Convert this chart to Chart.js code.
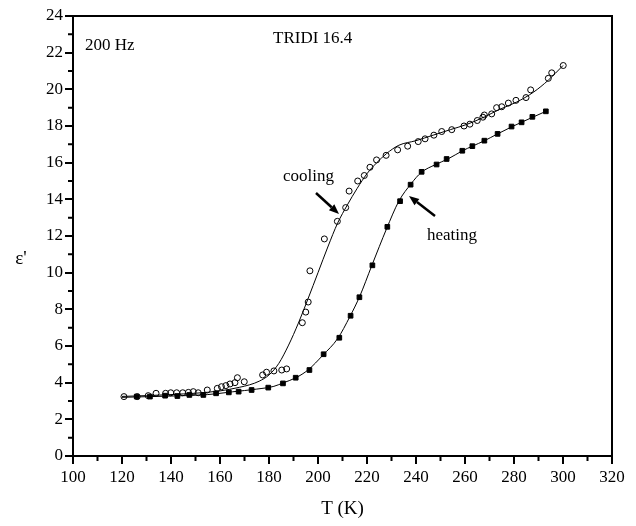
<!DOCTYPE html>
<html>
<head>
<meta charset="utf-8">
<script src="https://cdn.jsdelivr.net/npm/chart.js@4/dist/chart.umd.min.js"></script>
<style>
html,body{margin:0;padding:0;background:#fff;}
#wrap{width:636px;height:526px;position:relative;}
</style>
</head>
<body>
<div id="wrap"><canvas id="c"></canvas></div>
<script>
// ---- data ----
const coolingT = [120.8,126.2,130.7,133.9,137.8,139.9,142.3,144.8,147.1,149.1,151.1,154.8,158.9,160.6,162.4,164.1,166.1,167.1,169.9,177.4,179,182,185.2,187.2,193.6,195,196,196.7,202.6,207.9,211.3,212.7,216.2,218.9,221.2,223.9,227.8,232.5,236.6,240.9,243.7,247.3,250.5,254.6,259.6,262,265,267.3,267.9,270.9,272.9,275,277.7,280.8,284.9,286.8,294,295.4,300.1];
const coolingE = [3.24,3.24,3.29,3.42,3.42,3.45,3.45,3.45,3.47,3.51,3.45,3.6,3.69,3.78,3.84,3.93,4.0,4.27,4.05,4.42,4.57,4.64,4.69,4.75,7.27,7.85,8.4,10.1,11.84,12.8,13.55,14.45,15.0,15.3,15.75,16.15,16.4,16.7,16.9,17.15,17.3,17.5,17.7,17.8,18.0,18.1,18.3,18.48,18.6,18.66,19.0,19.05,19.25,19.4,19.55,19.97,20.6,20.9,21.3];

const heatingT = [126,131.4,137.6,142.6,147.5,153.2,158.4,163.6,167.6,172.9,179.7,185.7,190.9,196.5,202.3,208.7,213.3,216.9,222.2,228.3,233.5,237.8,242.3,248.4,252.5,258.9,263,267.9,273.3,279,283.1,287.5,293];
const heatingE = [3.24,3.24,3.29,3.27,3.33,3.33,3.42,3.47,3.51,3.6,3.73,3.96,4.27,4.69,5.55,6.45,7.65,8.66,10.4,12.5,13.9,14.8,15.5,15.9,16.2,16.65,16.9,17.2,17.57,17.97,18.2,18.5,18.8];

// fitted curves
const coolingFitT = [120,140,160,168,172,176,180,184,188,192,196,200,204,208,212,216,220,224,228,233,240,247,254,261,268,274,281,288,294,300];
const coolingFitE = [3.25,3.35,3.55,3.75,3.88,4.08,4.42,5.05,6.05,7.25,8.6,10.0,11.4,12.7,13.7,14.6,15.4,16.0,16.5,16.95,17.2,17.5,17.8,18.1,18.5,18.9,19.3,19.85,20.5,21.3];
const heatingFitT = [120,140,155,165,175,182,186,191,196,202,208,213,217,222,228,233,238,242,248,253,259,263,268,273,279,283,288,293];
const heatingFitE = [3.2,3.27,3.35,3.5,3.65,3.8,4.0,4.27,4.7,5.5,6.4,7.6,8.7,10.4,12.4,13.9,14.85,15.45,15.9,16.2,16.65,16.9,17.2,17.55,17.95,18.2,18.5,18.8];

const xTicks = [100,120,140,160,180,200,220,240,260,280,300,320];
const yTicks = [0,2,4,6,8,10,12,14,16,18,20,22,24];
const xMinor = [110,130,150,170,190,210,230,250,270,290,310];
const yMinor = [1,3,5,7,9,11,13,15,17,19,21,23];

const labels = {
  title: "TRIDI 16.4",
  freq: "200 Hz",
  cooling: "cooling",
  heating: "heating",
  xTitle: "T (K)",
  yTitle: "ε'"
};

const pts = (xs, ys) => xs.map((x, i) => ({x: x, y: ys[i]}));
const FONT = "'Liberation Serif', 'DejaVu Serif', serif";

const decor = {
  id: 'decor',
  afterDraw(chart) {
    const ctx = chart.ctx, ca = chart.chartArea;
    const xs = chart.scales.x, ys = chart.scales.y;
    ctx.save();
    // frame
    ctx.strokeStyle = '#000';
    ctx.lineWidth = 2;
    ctx.strokeRect(ca.left, ca.top, ca.right - ca.left, ca.bottom - ca.top);
    // minor ticks
    ctx.lineWidth = 2;
    ctx.beginPath();
    xMinor.forEach(v => { const p = xs.getPixelForValue(v); ctx.moveTo(p, ca.bottom); ctx.lineTo(p, ca.bottom + 5); });
    yMinor.forEach(v => { const p = ys.getPixelForValue(v); ctx.moveTo(ca.left, p); ctx.lineTo(ca.left - 5, p); });
    ctx.stroke();
    // texts
    ctx.fillStyle = '#000';
    ctx.font = '17px ' + FONT;
    ctx.textBaseline = 'middle';
    ctx.textAlign = 'left';
    ctx.fillText(labels.freq, 85, 46);
    ctx.fillText(labels.title, 273, 39);
    ctx.fillText(labels.cooling, 283, 177);
    ctx.fillText(labels.heating, 427, 236);
    // axis titles
    ctx.font = '19px ' + FONT;
    ctx.textAlign = 'center';
    ctx.fillText(labels.xTitle, (ca.left + ca.right) / 2, 509);
    ctx.fillText(labels.yTitle, 21, 259);
    // arrows
    const arrow = (x1, y1, x2, y2) => {
      ctx.lineWidth = 2.5;
      const a = Math.atan2(y2 - y1, x2 - x1);
      const hl = 10, hw = 4;
      const bx = x2 - hl * Math.cos(a), by = y2 - hl * Math.sin(a);
      ctx.beginPath(); ctx.moveTo(x1, y1); ctx.lineTo(bx, by); ctx.stroke();
      ctx.beginPath();
      ctx.moveTo(x2, y2);
      ctx.lineTo(bx + hw * Math.sin(a), by - hw * Math.cos(a));
      ctx.lineTo(bx - hw * Math.sin(a), by + hw * Math.cos(a));
      ctx.closePath(); ctx.fill();
    };
    arrow(316, 193, 339, 214);
    arrow(435, 216, 409, 196);
    ctx.restore();
  }
};

new Chart(document.getElementById('c'), {
  type: 'scatter',
  data: {
    datasets: [
      { data: pts(coolingFitT, coolingFitE), showLine: true, pointRadius: 0, borderColor: '#000', borderWidth: 1, cubicInterpolationMode: 'monotone', fill: false },
      { data: pts(heatingFitT, heatingFitE), showLine: true, pointRadius: 0, borderColor: '#000', borderWidth: 1, cubicInterpolationMode: 'monotone', fill: false },
      { data: pts(coolingT, coolingE), pointStyle: 'circle', pointRadius: 3, borderColor: '#000', backgroundColor: 'rgba(255,255,255,0)', pointBorderWidth: 1, showLine: false },
      { data: pts(heatingT, heatingE), pointStyle: 'rect', pointRadius: 3.3, borderColor: '#000', backgroundColor: '#000', pointBorderWidth: 1, showLine: false }
    ]
  },
  options: {
    responsive: true,
    maintainAspectRatio: false,
    animation: false,
    layout: { padding: { left: 0, right: 24, top: 16, bottom: 0 } },
    plugins: { legend: { display: false }, tooltip: { enabled: false }, title: { display: false } },
    scales: {
      x: {
        type: 'linear', min: 100, max: 320,
        afterBuildTicks: s => { s.ticks = xTicks.map(v => ({value: v})); },
        afterFit: s => { s.height = 70; },
        grid: { drawOnChartArea: false, drawTicks: true, tickLength: 8, color: '#000', lineWidth: 2 },
        border: { display: true, color: '#000', width: 2 },
        ticks: { color: '#000', font: { family: FONT, size: 17 }, padding: 3, maxRotation: 0, autoSkip: false }
      },
      y: {
        type: 'linear', min: 0, max: 24,
        afterBuildTicks: s => { s.ticks = yTicks.map(v => ({value: v})); },
        afterFit: s => { s.width = 73; },
        grid: { drawOnChartArea: false, drawTicks: true, tickLength: 8, color: '#000', lineWidth: 2 },
        border: { display: true, color: '#000', width: 2 },
        ticks: { color: '#000', font: { family: FONT, size: 17 }, padding: 2, autoSkip: false }
      }
    }
  },
  plugins: [decor]
});
</script>
</body>
</html>
